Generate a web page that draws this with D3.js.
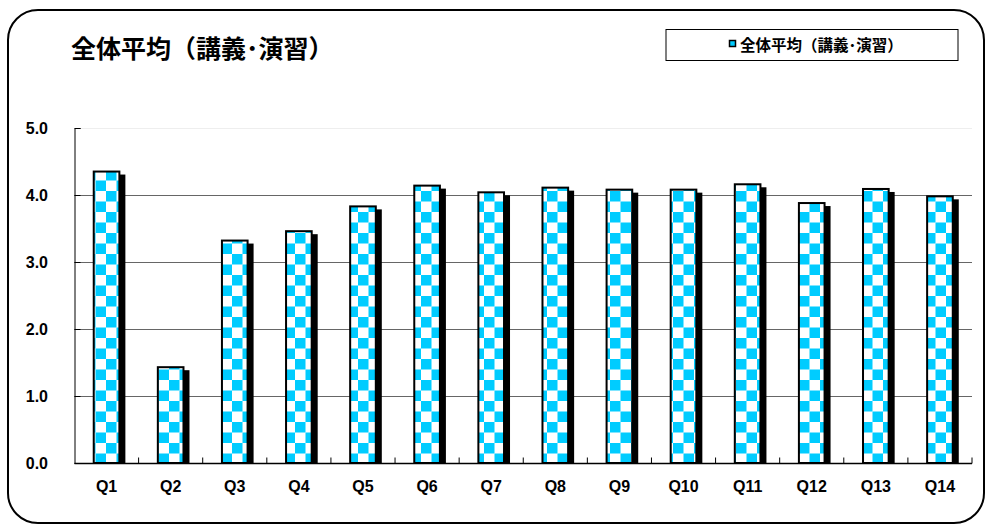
<!DOCTYPE html>
<html>
<head>
<meta charset="utf-8">
<script src="https://cdn.jsdelivr.net/npm/d3@7"></script>
<style>
  body { margin: 0; background: #fff; }
  svg { display: block; }
</style>
</head>
<body>
<svg id="chart" width="986" height="527"></svg>
<script>
// data
const categories = ['Q1', 'Q2', 'Q3', 'Q4', 'Q5', 'Q6', 'Q7', 'Q8', 'Q9', 'Q10', 'Q11', 'Q12', 'Q13', 'Q14']
const averages = [4.35, 1.43, 3.32, 3.46, 3.83, 4.14, 4.04, 4.11, 4.08, 4.08, 4.16, 3.88, 4.09, 3.98]
const yTicks = [0, 1, 2, 3, 4, 5]
const seriesName = '全体平均（講義･演習）'
const titleText = '全体平均（講義･演習）'

const width = 986, height = 527
const margin = { left: 74.5, right: 14, top: 128, bottom: 64 }
const jp = '"Noto Sans CJK JP", "Noto Sans", sans-serif'
const latin = '"Liberation Sans", Arial, sans-serif'

const svg = d3.select('#chart')

// outer rounded frame
svg.append('rect')
  .attr('x', 8).attr('y', 10)
  .attr('width', 976).attr('height', 513)
  .attr('rx', 30).attr('ry', 30)
  .attr('fill', '#fff')
  .attr('stroke', '#000')
  .attr('stroke-width', 2)

// checker pattern for the bars
const defs = svg.append('defs')
const sq = 10.5
const pat = defs.append('pattern')
  .attr('id', 'checker')
  .attr('patternUnits', 'userSpaceOnUse')
  .attr('width', sq * 2).attr('height', sq * 2)
  .attr('x', 1).attr('y', 2)
pat.append('rect').attr('width', sq * 2).attr('height', sq * 2).attr('fill', '#fff')
pat.append('rect').attr('width', sq).attr('height', sq).attr('fill', '#00ccff')
pat.append('rect').attr('x', sq).attr('y', sq).attr('width', sq).attr('height', sq).attr('fill', '#00ccff')

const x = d3.scaleBand()
  .domain(categories)
  .range([margin.left, width - margin.right])
  .paddingInner(0.6)
  .paddingOuter(0.3)

const y = d3.scaleLinear()
  .domain([0, 5])
  .range([height - margin.bottom, margin.top])

// gridlines
svg.append('g')
  .selectAll('line')
  .data(yTicks.filter(d => d > 0))
  .join('line')
  .attr('x1', margin.left).attr('x2', width - margin.right)
  .attr('y1', d => Math.round(y(d)) + 0.5).attr('y2', d => Math.round(y(d)) + 0.5)
  .attr('stroke', d => d === 5 ? '#eeeeee' : '#666')
  .attr('stroke-width', 1)

// y axis: ticks pointing into the plot
const yAxis = svg.append('g')
  .attr('transform', `translate(${margin.left},0)`)
  .call(d3.axisRight(y).tickValues(yTicks).tickSize(6).tickFormat(''))
yAxis.select('.domain').attr('stroke', '#000')
yAxis.selectAll('.tick line').attr('stroke', '#000')

svg.append('g')
  .selectAll('text')
  .data(yTicks)
  .join('text')
  .attr('x', 48)
  .attr('y', d => y(d) + 5.5)
  .attr('text-anchor', 'end')
  .attr('font-family', latin)
  .attr('font-weight', 'bold')
  .attr('font-size', 16)
  .text(d => d3.format('.1f')(d))

// bars with drop shadow
const bars = svg.append('g')
const bw = x.bandwidth()
bars.selectAll('rect.shadow')
  .data(averages)
  .join('rect')
  .attr('class', 'shadow')
  .attr('x', (d, i) => x(categories[i]) + 6)
  .attr('y', d => y(d) + 3)
  .attr('width', bw)
  .attr('height', d => y(0) - y(d) - 3)
  .attr('fill', '#000')

bars.selectAll('rect.bar')
  .data(averages)
  .join('rect')
  .attr('class', 'bar')
  .attr('x', (d, i) => x(categories[i]))
  .attr('y', d => y(d))
  .attr('width', bw)
  .attr('height', d => y(0) - y(d))
  .attr('fill', 'url(#checker)')
  .attr('stroke', '#000')
  .attr('stroke-width', 2)

// x axis: line with ticks between categories pointing up
const y0 = Math.round(y(0)) + 0.5
svg.append('line')
  .attr('x1', margin.left).attr('x2', width - margin.right)
  .attr('y1', y0).attr('y2', y0)
  .attr('stroke', '#000').attr('stroke-width', 1.5)

const step = x.step()
svg.append('g')
  .selectAll('line')
  .data(categories)
  .join('line')
  .attr('x1', (d, i) => margin.left + step * (i + 1))
  .attr('x2', (d, i) => margin.left + step * (i + 1))
  .attr('y1', y0).attr('y2', y0 - 6)
  .attr('stroke', '#000')

svg.append('g')
  .selectAll('text')
  .data(categories)
  .join('text')
  .attr('x', d => x(d) + bw / 2)
  .attr('y', 492)
  .attr('text-anchor', 'middle')
  .attr('font-family', latin)
  .attr('font-weight', 'bold')
  .attr('font-size', 16)
  .text(d => d)

// title
svg.append('text')
  .attr('x', 71)
  .attr('y', 58)
  .attr('font-family', jp)
  .attr('font-weight', 'bold')
  .attr('font-size', 25)
  .text(titleText)

// legend
const legend = svg.append('g')
legend.append('rect')
  .attr('x', 666).attr('y', 29.5)
  .attr('width', 292).attr('height', 31)
  .attr('fill', '#fff')
  .attr('stroke', '#000')
  .attr('stroke-width', 1)
legend.append('rect')
  .attr('x', 729.5).attr('y', 40.5)
  .attr('width', 6).attr('height', 6)
  .attr('fill', '#00ccff')
  .attr('stroke', '#000')
  .attr('stroke-width', 1.5)
legend.append('text')
  .attr('x', 740)
  .attr('y', 50.5)
  .attr('font-family', jp)
  .attr('font-weight', 'bold')
  .attr('font-size', 15.5)
  .text(seriesName)
</script>
</body>
</html>
